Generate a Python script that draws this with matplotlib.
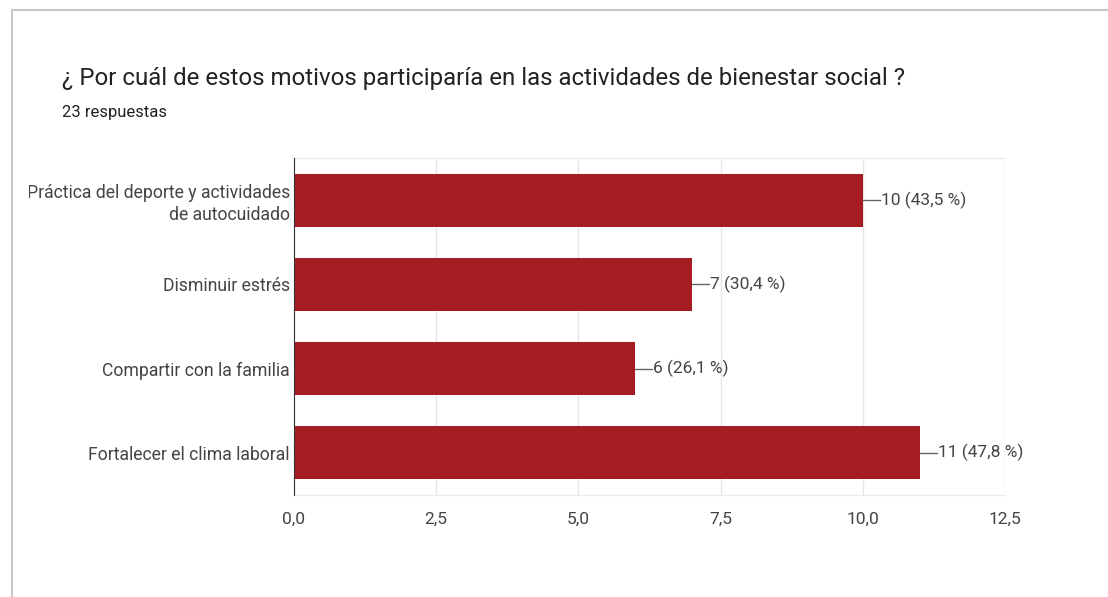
import matplotlib
matplotlib.use("Agg")
import matplotlib.pyplot as plt
from matplotlib.patches import Rectangle

# Datos de la encuesta
categorias = ["Práctica del deporte y actividades\nde autocuidado", "Disminuir estrés",
              "Compartir con la familia", "Fortalecer el clima laboral"]
respuestas = [10, 7, 6, 11]
porcentajes = [43.5, 30.4, 26.1, 47.8]
ticks_x = [0, 2.5, 5, 7.5, 10, 12.5]

plt.rcParams['font.family'] = ['Roboto', 'DejaVu Sans']
COLOR_BARRA = "#a51d21"
GRIS_TEXTO = "#444444"

fig = plt.figure(figsize=(11.08, 5.97), dpi=100)

# marco de la captura
fig.add_artist(Rectangle((0.011, -0.05), 1.1, 1.033, transform=fig.transFigure,
                         fill=False, edgecolor="#c8c8c8", linewidth=1.5))

fig.text(0.056, 0.869, "¿ Por cuál de estos motivos participaría en las actividades de bienestar social ?",
         fontsize=17.3, color="#222222", va="center")
fig.text(0.056, 0.812, "23 respuestas", fontsize=12, color="#222222", va="center")

ax = fig.add_axes([0.2653, 0.1709, 0.6418, 0.5644])
pos = list(range(len(categorias)))
ax.barh(pos, respuestas, height=0.63, color=COLOR_BARRA, zorder=3)
ax.set_ylim(len(categorias) - 0.5, -0.5)
ax.set_xlim(0, 12.5)
ax.set_yticks(pos)
ax.set_yticklabels(categorias, fontsize=12.7, color=GRIS_TEXTO, linespacing=1.3)
ax.set_xticks(ticks_x)
ax.set_xticklabels([f"{t:.1f}".replace(".", ",") for t in ticks_x], fontsize=12.5, color=GRIS_TEXTO)
ax.tick_params(axis="both", length=0, pad=3)
ax.tick_params(axis="x", pad=12)
ax.grid(axis="x", color="#e6e6e6", linewidth=1, zorder=0)
for lado in ["top", "bottom", "right"]:
    ax.spines[lado].set_color("#ececec")
ax.spines["right"].set_visible(False)
ax.spines["left"].set_color("#333333")
ax.spines["left"].set_zorder(4)

# la etiqueta larga queda recortada por el borde de la captura
recorte = Rectangle((29 / 1108, 0), 1, 1, transform=fig.transFigure)
ax.get_yticklabels()[0].set_clip_path(recorte)

for i, (v, p) in enumerate(zip(respuestas, porcentajes)):
    ax.plot([v, v + 0.3], [i, i], color="#666666", linewidth=1, zorder=3)
    ax.text(v + 0.32, i, f"{v} ({p:.1f} %)".replace(".", ","), va="center", ha="left",
            fontsize=12.5, color=GRIS_TEXTO)

fig.savefig("out.png", dpi=100, facecolor="white")
